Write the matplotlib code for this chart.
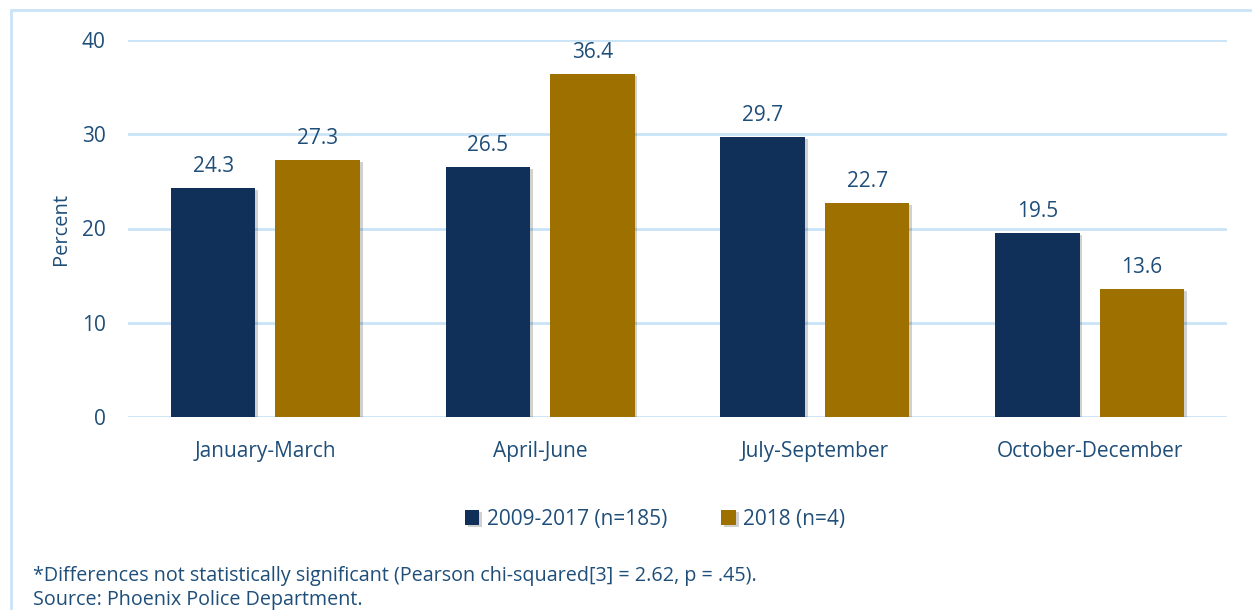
import matplotlib
matplotlib.use("Agg")
import matplotlib.pyplot as plt
import numpy as np
from matplotlib.patches import Rectangle
import matplotlib.patheffects as pe

categories = ["January-March", "April-June", "July-September", "October-December"]
series_names = ["2009-2017 (n=185)", "2018 (n=4)"]
vals_0917 = [24.3, 26.5, 29.7, 19.5]
vals_2018 = [27.3, 36.4, 22.7, 13.6]
yticks = [0, 10, 20, 30, 40]

navy = "#10305A"
gold = "#9E7000"
txt = "#1F4E79"
grid = "#C9E4F7"

plt.rcParams["font.family"] = ["Open Sans", "DejaVu Sans"]

W, H = 1252, 610
fig = plt.figure(figsize=(W / 100, H / 100), dpi=100)
ax = fig.add_axes([128 / W, 1 - 417 / H, (1227 - 128) / W, (417 - 40) / H])

x = np.arange(len(categories))
bw = 0.307
off = 0.19
shadow = [pe.SimplePatchShadow(offset=(2, -1.5), shadow_rgbFace="#000000", alpha=0.18), pe.Normal()]
b1 = ax.bar(x - off, vals_0917, bw, color=navy, zorder=3, label=series_names[0])
b2 = ax.bar(x + off, vals_2018, bw, color=gold, zorder=3, label=series_names[1])
for bars in (b1, b2):
    for r in bars:
        r.set_path_effects(shadow)
    ax.bar_label(bars, labels=[f"{v:.1f}" for v in bars.datavalues], padding=8,
                 fontsize=15, color=txt)

ax.set_xlim(-0.5, 3.5)
ax.set_ylim(0, 40)
ax.set_yticks(yticks)
ax.set_xticks(x)
ax.set_xticklabels(categories)
ax.tick_params(axis="both", length=0, labelsize=15, labelcolor=txt)
ax.tick_params(axis="y", pad=16)
ax.tick_params(axis="x", pad=17)
ax.grid(axis="y", color=grid, linewidth=2, zorder=0)
for s in ax.spines.values():
    s.set_visible(False)
ax.set_ylabel("Percent", fontsize=14.5, color=txt)
ax.yaxis.set_label_coords(-0.052, 0.5)

ax.legend(loc="center", bbox_to_anchor=(655 / W, 1 - 519 / H), bbox_transform=fig.transFigure,
          ncol=2, frameon=False, fontsize=15, labelcolor=txt, handlelength=0.7,
          handleheight=0.7, handletextpad=0.35, columnspacing=2.6)

fig.text(33 / W, 1 - 576 / H, "*Differences not statistically significant (Pearson chi-squared[3] = 2.62, p = .45).",
         fontsize=14.2, color=txt, va="center")
fig.text(33 / W, 1 - 600 / H, "Source: Phoenix Police Department.",
         fontsize=14.2, color=txt, va="center")

fig.patches.append(Rectangle((11 / W, -0.1), 1.2, 1 - 10 / H + 0.1, transform=fig.transFigure,
                             fill=False, edgecolor=grid, linewidth=2, clip_on=False))

fig.savefig("out.png", dpi=100)
